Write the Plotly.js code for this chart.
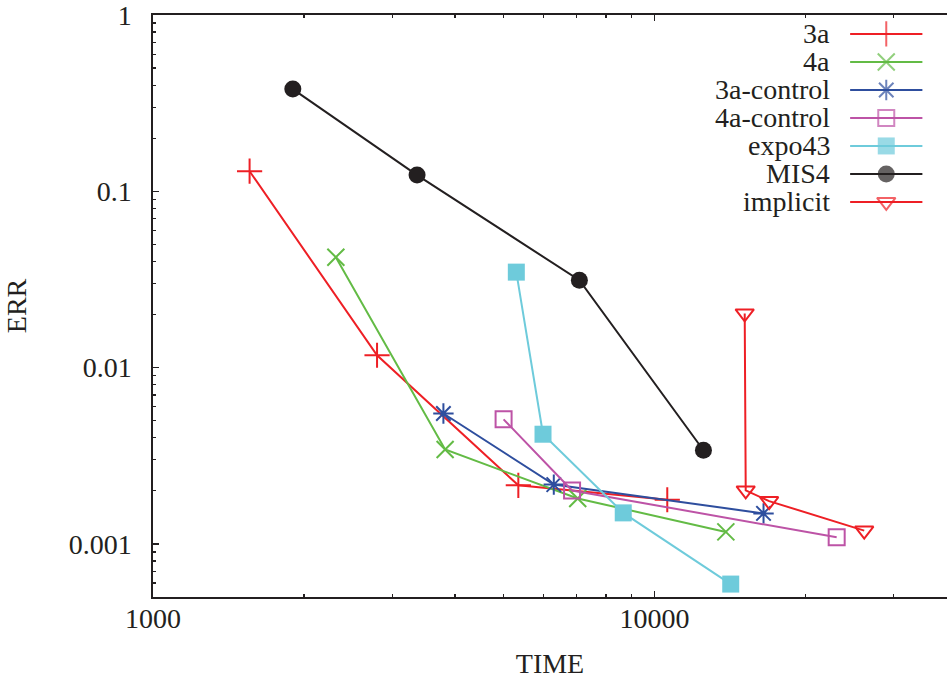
<!DOCTYPE html>
<html>
<head>
<meta charset="utf-8">
<script src="https://cdn.plot.ly/plotly-3.0.1.min.js"></script>
<style>html,body{margin:0;padding:0;background:#fff;}#chart{width:947px;height:682px;}</style>
</head>
<body>
<div id="chart"></div>
<script>
// ---- data ----
const seriesNames = ['3a', '4a', '3a-control', '4a-control', 'expo43', 'MIS4', 'implicit'];

const time3a = [1558, 2797, 5350, 10600];
const err3a = [0.130, 0.01175, 0.00215, 0.00178];

const time4a = [2315, 3823, 7027, 13870];
const err4a = [0.0423, 0.00343, 0.00181, 0.00117];

const time3aControl = [3793, 6296, 16490];
const err3aControl = [0.00549, 0.00217, 0.00149];

const time4aControl = [5000, 6847, 23070];
const err4aControl = [0.00509, 0.00201, 0.00109];

const timeExpo43 = [5301, 5992, 8660, 14185];
const errExpo43 = [0.0348, 0.00419, 0.0015, 0.000592];

const timeMIS4 = [1900, 3361, 7081, 12515];
const errMIS4 = [0.380, 0.1236, 0.0313, 0.0034];

const timeImplicit = [15125, 15195, 16920, 26180];
const errImplicit = [0.0203, 0.00201, 0.00175, 0.00119];

// tick labels
const xTickVals = [1000, 10000];
const xTickText = ['1000', '10000'];
const yTickVals = [0.001, 0.01, 0.1, 1];
const yTickText = ['0.001', '0.01', '0.1', '1'];

// ---- styles ----
const xs = [time3a, time4a, time3aControl, time4aControl, timeExpo43, timeMIS4, timeImplicit];
const ys = [err3a, err4a, err3aControl, err4aControl, errExpo43, errMIS4, errImplicit];
const colors = ['#ee1f25', '#63bb45', '#2e4e9e', '#bd53a6', '#6ecbdb', '#231f20', '#ee1f25'];
const symbols = ['cross-thin-open', 'x-thin-open', 'asterisk-open', 'square-open', 'square', 'circle', 'triangle-down-open'];
const sizes = [18, 17, 17, 16, 17, 17, 16];
const mlw = [2, 2, 2, 2, 0, 0, 2];

const FONT = '"Liberation Serif", "Times New Roman", serif';
const INK = '#231f20';
const FS = 28;

const traces = [];
seriesNames.forEach((name, i) => {
  traces.push({
    type: 'scatter', mode: 'lines+markers', name: name,
    x: xs[i], y: ys[i],
    line: {color: colors[i], width: 2},
    marker: {symbol: symbols[i], size: sizes[i], color: colors[i],
             line: {color: colors[i], width: mlw[i]}},
    showlegend: false, hoverinfo: 'skip'
  });
});

// custom gnuplot-style legend (text left, sample right)
const legX0 = 0.878, legX1 = 0.969, legXm = 0.9235;
const legTop = 0.9674, legStep = 0.0481;
const legTextX = 0.855;
const annotations = [];
seriesNames.forEach((name, i) => {
  const yy = legTop - i * legStep;
  traces.push({
    type: 'scatter', mode: 'lines+markers', xaxis: 'x2', yaxis: 'y2',
    x: [legX0, legXm, legX1], y: [yy, yy, yy],
    line: {color: colors[i], width: 2},
    marker: {symbol: symbols[i], size: [0, sizes[i], 0], color: colors[i],
             line: {color: colors[i], width: mlw[i]}},
    showlegend: false, hoverinfo: 'skip'
  });
  annotations.push({
    xref: 'paper', yref: 'paper', x: legTextX, y: yy,
    xanchor: 'right', yanchor: 'middle', showarrow: false,
    text: name, font: {family: FONT, size: FS, color: INK}
  });
});

const layout = {
  width: 947, height: 682,
  margin: {l: 153, r: 0, t: 15, b: 85},
  paper_bgcolor: '#fff', plot_bgcolor: '#fff',
  font: {family: FONT, size: FS, color: INK},
  showlegend: false,
  xaxis: {
    type: 'log', range: [3, 4.583],
    tickmode: 'array', tickvals: xTickVals, ticktext: xTickText,
    ticks: 'inside', ticklen: 6, tickwidth: 1.3, tickcolor: INK,
    minor: {dtick: 'D1', ticks: 'inside', ticklen: 3, tickwidth: 1.2, tickcolor: INK, showgrid: false},
    showline: true, linecolor: INK, linewidth: 1.6, mirror: 'allticks',
    showgrid: false, zeroline: false,
    ticklabelstandoff: -4, ticklabeloverflow: 'allow',
    tickfont: {family: FONT, size: FS, color: INK},
    title: {text: 'TIME', font: {family: FONT, size: FS, color: INK}, standoff: 20}
  },
  yaxis: {
    type: 'log', range: [Math.log10(0.0005), 0],
    tickmode: 'array', tickvals: yTickVals, ticktext: yTickText,
    ticks: 'inside', ticklen: 6, tickwidth: 1.3, tickcolor: INK,
    minor: {dtick: 'D1', ticks: 'inside', ticklen: 3, tickwidth: 1.2, tickcolor: INK, showgrid: false},
    showline: true, linecolor: INK, linewidth: 1.6, mirror: false,
    showgrid: false, zeroline: false,
    ticklabelstandoff: 14, ticklabeloverflow: 'allow',
    tickfont: {family: FONT, size: FS, color: INK},
    title: {text: 'ERR', font: {family: FONT, size: FS, color: INK}, standoff: 34}
  },
  xaxis2: {overlaying: 'x', range: [0, 1], visible: false, fixedrange: true},
  yaxis2: {overlaying: 'y', range: [0, 1], visible: false, fixedrange: true},
  annotations: annotations
};

Plotly.newPlot('chart', traces, layout, {staticPlot: true, displayModeBar: false});
</script>
</body>
</html>
